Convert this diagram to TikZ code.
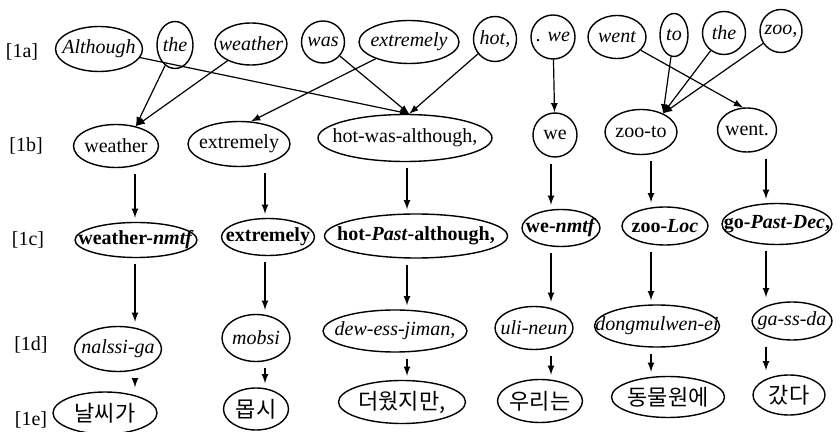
\documentclass[tikz,border=0pt]{standalone}
\usepackage{fontspec}
\setmainfont{Liberation Serif}
\newfontfamily\krfont{Noto Sans CJK KR}
\usetikzlibrary{arrows,shapes.geometric,calc}
\tikzset{sz/.style 2 args={minimum width=#1*0.5pt,minimum height=#2*0.5pt}}

\begin{document}
\begin{tikzpicture}[x=0.5pt,y=-0.5pt,>=latex]
  \tikzstyle{word}=[draw,ellipse,line width=0.7pt,inner sep=-30pt]
  \tikzstyle{rowa}=[word,font=\itshape]
  \tikzstyle{rowc}=[word,font=\bfseries]
  \tikzstyle{rowe}=[word,font=\krfont\fontsize{11}{13}\selectfont]
  \tikzstyle{link}=[->,line width=0.6pt]
  \tikzstyle{down}=[->,line width=0.6pt,shorten <=3pt,shorten >=2pt]
  \useasboundingbox (0,0) rectangle (840,432);

  % row labels
  \node (la) at (22,52) {[1a]};
  \node (lb) at (26,146) {[1b]};
  \node (lc) at (28,240) {[1c]};
  \node (ld) at (31,345) {[1d]};
  \node (le) at (31,420) {[1e]};

  % [1a] english words
  \node[rowa,sz={87}{45}] (alth) at (99,49) {Although};
  \node[rowa,sz={36}{47}] (theA) at (175,45) {the};
  \node[rowa,sz={72}{42}] (wthA) at (251,44) {weather};
  \node[rowa,sz={43}{42}] (wasA) at (323,42) {was};
  \node[rowa,sz={100}{43}] (extA) at (409,42) {extremely};
  \node[rowa,sz={43}{45}] (hotA) at (495,39) {hot,};
  \node[rowa,sz={44}{44}] (weA) at (553,37) {.\,\,we};
  \node[rowa,sz={58}{43}] (wntA) at (617,37) {went};
  \node[rowa,sz={28}{43}] (toA) at (674,35) {to};
  \node[rowa,sz={43}{43}] (thA) at (724,33) {the};
  \node[rowa,sz={42}{43}] (zooA) at (781,31) {zoo,};

  % [1b] reordered
  \node[word,sz={85}{43}] (wthB) at (116,146) {weather};
  \node[word,sz={102}{45}] (extB) at (239,144) {extremely};
  \node[word,sz={174}{47}] (hwaB) at (405,138) {hot-was-although,};
  \node[word,sz={44}{44}] (weB) at (555,135) {we};
  \node[word,sz={72}{45}] (ztB) at (641,132) {zoo-to};
  \node[word,sz={59}{44}] (wntB) at (747,130) {went.};

  % [1c] glosses
  \node[rowc,sz={122}{35}] (wthC) at (136,240) {weather-\textit{nmtf}};
  \node[rowc,sz={93}{37}] (extC) at (268,237) {extremely};
  \node[rowc,sz={183}{44}] (hpaC) at (416,236) {hot-\textit{Past}-although,};
  \node[rowc,sz={78}{37}] (weC) at (561,228) {we-\textit{nmtf}};
  \node[rowc,sz={86}{38}] (zlC) at (665,226) {zoo-\textit{Loc}};
  \node[rowc,sz={110}{41}] (gpdC) at (777,224) {go-\textit{Past-Dec},};

  % [1d] romanized
  \node[rowa,sz={87}{45}] (nalD) at (118,349) {nalssi-ga};
  \node[rowa,sz={68}{47}] (mobD) at (256,338) {mobsi};
  \node[rowa,sz={144}{42}] (dewD) at (395,331) {dew-ess-jiman,};
  \node[rowa,sz={78}{43}] (uliD) at (534,328) {uli-neun};
  \node[rowa,sz={125}{42}] (dngD) at (657,326) {dongmulwen-ei};
  \node[rowa,sz={80}{38}] (gsdD) at (792,321) {ga-ss-da};

  % [1e] korean
  \node[rowe,sz={104}{42}] (nalE) at (105,413) {날씨가};
  \node[rowe,sz={65}{42}] (mobE) at (256,409) {몹시};
  \node[rowe,sz={127}{43}] (dewE) at (402,402) {더웠지만,};
  \node[rowe,sz={85}{43}] (uliE) at (540,401) {우리는};
  \node[rowe,sz={113}{41}] (dngE) at (668,397) {동물원에};
  \node[rowe,sz={72}{40}] (gsdE) at (789,395) {갔다};

  \path[link]
  (alth) edge (hwaB.80)
  (wasA) edge (hwaB.80)
  (hotA) edge (hwaB.80)
  (theA) edge (wthB.45)
  (wthA) edge (wthB.45)
  (extA) edge (extB.62)
  (weA) edge (weB)
  (wntA) edge (wntB.100)
  (toA) edge (ztB.40)
  (thA) edge (ztB.40)
  (zooA) edge (ztB.40);

  % columns
  \coordinate (c1) at (135,0);
  \coordinate (c2) at (265,0);
  \coordinate (c3) at (407,0);
  \coordinate (c4) at (551,0);
  \coordinate (c5) at (651,0);
  \coordinate (c6) at (766,0);

  \draw[down] (wthB.south -| c1) -- (wthC.north -| c1);
  \draw[down] (wthC.south -| c1) -- (nalD.north -| c1);
  \draw[down] (nalD.south -| c1) -- (nalE.north -| c1);

  \draw[down] (extB.south -| c2) -- (extC.north -| c2);
  \draw[down] (extC.south -| c2) -- (mobD.north -| c2);
  \draw[down] (mobD.south -| c2) -- (mobE.north -| c2);

  \draw[down] (hwaB.south -| c3) -- (hpaC.north -| c3);
  \draw[down] (hpaC.south -| c3) -- (dewD.north -| c3);
  \draw[down] (dewD.south -| c3) -- (dewE.north -| c3);

  \draw[down] (weB.south -| c4) -- (weC.north -| c4);
  \draw[down] (weC.south -| c4) -- (uliD.north -| c4);
  \draw[down] (uliD.south -| c4) -- (uliE.north -| c4);

  \draw[down] (ztB.south -| c5) -- (zlC.north -| c5);
  \draw[down] (zlC.south -| c5) -- (dngD.north -| c5);
  \draw[down] (dngD.south -| c5) -- (dngE.north -| c5);

  \draw[down] (wntB.south -| c6) -- (gpdC.north -| c6);
  \draw[down] (gpdC.south -| c6) -- (gsdD.north -| c6);
  \draw[down] (gsdD.south -| c6) -- (gsdE.north -| c6);
\end{tikzpicture}
\end{document}
